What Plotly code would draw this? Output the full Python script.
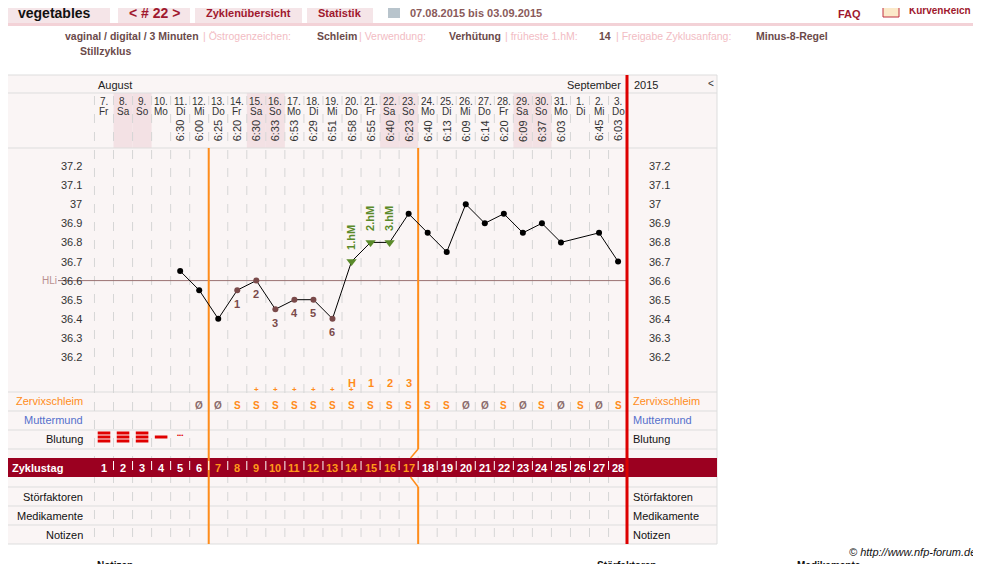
import plotly.graph_objects as go

dates = ["7.","8.","9.","10.","11.","12.","13.","14.","15.","16.","17.","18.","19.","20.","21.","22.","23.","24.","25.","26.","27.","28.","29.","30.","31.","1.","2.","3."]
weekdays = ["Fr","Sa","So","Mo","Di","Mi","Do"]*4
times = ["","","","","6:30","6:00","6:25","6:20","6:30","6:33","6:53","6:29","6:51","6:58","6:55","6:40","6:23","6:40","6:13","6:09","6:14","6:20","6:09","6:37","6:03","","6:45","6:03"]
temps = [None,None,None,None,36.65,36.55,36.40,36.55,36.60,36.45,36.50,36.50,36.40,36.70,36.80,36.80,36.95,36.85,36.75,37.00,36.90,36.95,36.85,36.90,36.80,None,36.85,36.70]
low_days = [8,9,10,11,12,13]
hm_days = [14,15,16]
hm_labels = ["1.hM","2.hM","3.hM"]
peak_labels = {14:"H",15:"1",16:"2",17:"3"}
zervix = ["","","","","","Ø","Ø","S","S+","S+","S+","S+","S+","S+","S","S","S","S","S","Ø","Ø","S","Ø","S","Ø","S","Ø","S"]
blutung = [3,3,3,1,0.5]+[0]*23
weekend = [2,3,9,10,16,17,23,24]
hl = 36.6
yticks = [36.2,36.3,36.4,36.5,36.6,36.7,36.8,36.9,37.0,37.1,37.2]

W, H = 981, 564
OFF = 8  # page body margin
X0, DX = 104.0, 19.04
def px(p): return (p - X0) / DX
def py(p): return 37.2 - (p - 166) / 191.0
def dx(d): return d - 1

FONT = "Liberation Sans"
fig = go.Figure()
shapes, ann = [], []
def rect(x0, y0, x1, y1, fill, line=None, lw=0):
    shapes.append(dict(type="rect", x0=px(x0), x1=px(x1), y0=py(y0), y1=py(y1), fillcolor=fill,
                       line=dict(color=line or fill, width=lw), layer="below"))
def line(x0, y0, x1, y1, color, w=1, dash="solid", layer="below"):
    shapes.append(dict(type="line", x0=x0, x1=x1, y0=y0, y1=y1, line=dict(color=color, width=w, dash=dash), layer=layer))
def text(x, y, t, size=11, color="#333", anchor="center", bold=False, angle=0, italic=False, family=FONT, va="middle"):
    if bold: t = "<b>%s</b>" % t
    if italic: t = "<i>%s</i>" % t
    ann.append(dict(x=x, y=y, text=t, showarrow=False, xanchor=anchor, yanchor=va, textangle=angle,
                    font=dict(size=size, color=color, family=family)))

# header
rect(0, 0, 110, 24, "#f5e5e8"); rect(118, 0, 190, 24, "#f5e5e8"); rect(195, 0, 302, 24, "#f5e5e8"); rect(307, 0, 373, 24, "#f5e5e8")
rect(0, 23, 981, 26, "#f3d2d7")
text(px(16), py(13), "vegetables", 14, "#111", "left", True)
text(px(154), py(13), "&lt; # 22 &gt;", 14, "#a0182e", "center", True)
text(px(248), py(13), "Zyklenübersicht", 11, "#a0182e", "center", True)
text(px(340), py(13), "Statistik", 11, "#a0182e", "center", True)
rect(388, 6, 400, 18, "#b8c4cc")
text(px(408), py(13), "07.08.2015 bis 03.09.2015", 11, "#8a5a5a", "left", True)
text(px(836), py(14), "FAQ", 11, "#a0182e", "left", True)
rect(883, 4, 899, 17, "#fbe9c9", "#c03040", 1)
text(px(907), py(10), "KurvenReich", 10, "#a0182e", "left", True)
meta = [(6,"Messung:",False),(63,"vaginal / digital / 3 Minuten",True),(201,"| Östrogenzeichen:",False),(315,"Schleim",True),(357,"| Verwendung:",False),(447,"Verhütung",True),(503,"| früheste 1.hM:",False),(597,"14",True),(614,"| Freigabe Zyklusanfang:",False),(754,"Minus-8-Regel",True)]
for x, t, v in meta:
    text(px(x), py(36), t, 10.5, "#6b4a4a" if v else "#f2bcc3", "left", v)
text(px(6), py(51), "Kommentar:", 10.5, "#f2bcc3", "left")
text(px(78), py(51), "Stillzyklus", 10.5, "#6b4a4a", "left", True)

# panel
rect(0, 75, 717, 544, "#faf5f5", "#dddddd", 1)
for d in weekend:
    rect(X0 + DX*(dx(d)-0.5), 93, X0 + DX*(dx(d)+0.5), 148, "#f3e1e4")
for y in [93, 148, 392, 411, 430, 449, 487, 506, 525]:
    line(px(0), py(y), px(717), py(y), "#dddddd")
for i in range(29):
    xv = i - 0.5
    line(xv, py(96), xv, py(544), "#d6d6d6", 1, "dash")
rect(0, 458, 717, 477, "#9b0020")
for i in range(1, 28):
    line(i-0.5, py(461), i-0.5, py(475), "#ffffff", 1, "dash", "above")
text(px(6), py(85), "&gt;", 10, "#333", "left")
text(px(96), py(85), "August", 11, "#222", "left")
text(px(623), py(85), "September", 11, "#222", "right")
text(px(632), py(85), "2015", 11, "#222", "left")
text(px(706), py(83), "&lt;", 10, "#333", "left")
for i in range(28):
    text(i, py(101), dates[i], 10, "#333")
    text(i, py(111), weekdays[i], 10, "#333")
    if times[i]:
        text(i, py(131), times[i], 11, "#333", angle=-90)

for t in yticks:
    lab = ("%g" % t) if t != 37.0 else "37"
    text(px(84), t, lab, 11, "#333", "right")
    text(px(647), t, lab, 11, "#333", "left")
line(px(58), hl, px(627), hl, "#9a7272", 1, layer="below")
text(px(40), hl, "HLi", 10, "#b89090", "left")

line(5.5, py(148), 5.5, py(544), "#ff8c1a", 2)
line(16.5, py(148), 16.5, py(449), "#ff8c1a", 2)
line(16.5, py(449), 16.1, py(458), "#ff8c1a", 1.5)
line(16.1, py(477), 16.5, py(487), "#ff8c1a", 1.5)
line(16.5, py(487), 16.5, py(544), "#ff8c1a", 2)
line(px(627), py(75), px(627), py(544), "#dd0000", 3)

xs = [i for i in range(28) if temps[i] is not None]
ys = [temps[i] for i in xs]
fig.add_trace(go.Scatter(x=xs, y=ys, mode="lines", line=dict(color="#000", width=1), hoverinfo="skip"))
norm = [i for i in xs if (i+1) not in low_days and (i+1) not in hm_days]
fig.add_trace(go.Scatter(x=norm, y=[temps[i] for i in norm], mode="markers", marker=dict(color="#000", size=6), hoverinfo="skip"))
fig.add_trace(go.Scatter(x=[dx(d) for d in low_days], y=[temps[dx(d)] for d in low_days], mode="markers",
                         marker=dict(color="#7a4a4a", size=6), hoverinfo="skip"))
fig.add_trace(go.Scatter(x=[dx(d) for d in hm_days], y=[temps[dx(d)] for d in hm_days], mode="markers",
                         marker=dict(color="#5a8a2a", size=9, symbol="triangle-down"), hoverinfo="skip"))
for k, d in enumerate(low_days):
    text(dx(d), temps[dx(d)] - 0.07, str(k+1), 11, "#7a4a4a", bold=True)
for k, d in enumerate(hm_days):
    text(dx(d), temps[dx(d)] + 0.05, hm_labels[k], 11, "#5a8a2a", bold=True, angle=-90, va="bottom")
for d, t in peak_labels.items():
    text(dx(d), py(383), t, 11, "#ff8c1a", bold=True)

for y, t, c in [(401, "Zervixschleim", "#ff8c1a"), (420, "Muttermund", "#5570cc"), (439, "Blutung", "#111"),
                (497, "Störfaktoren", "#111"), (516, "Medikamente", "#111"), (535, "Notizen", "#111")]:
    text(px(85), py(y), t, 11, c, "right")
    text(px(631), py(y), t, 11, c, "left")
text(px(10), py(468), "Zyklustag", 11, "#fff", "left", True)
for i in range(28):
    text(i, py(468), str(i+1), 11, "#ff9a1a" if 6 <= i <= 16 else "#fff", bold=True)
    z = zervix[i]
    if z:
        col = "#ff8c1a" if z.startswith("S") else "#8a6a6a"
        text(i, py(405), z[0], 10, col, bold=True)
        if z.endswith("+"):
            text(i, py(396), "+", 8, col, bold=True, va="bottom")
bx, by = [], []
for i, b in enumerate(blutung):
    if b >= 1:
        offs = [-4, 0, 4] if b == 3 else [0]
        for o in offs:
            bx.append(i); by.append(py(437 + o))
fig.add_trace(go.Scatter(x=bx, y=by, mode="markers", marker=dict(symbol="line-ew", size=9, line=dict(color="#e00000", width=3)), hoverinfo="skip"))
for i, b in enumerate(blutung):
    if 0 < b < 1:
        text(i, py(435), "•••", 6, "#e00000")

text(px(978), py(552), "© http://www.nfp-forum.de", 11, "#111", "right", italic=True)
for x, t in [(95, "Notizen"), (595, "Störfaktoren"), (795, "Medikamente")]:
    text(px(x), py(558), t, 10, "#111", "left", True, va="top")

fig.update_layout(width=W - OFF, height=H - OFF, margin=dict(l=0, r=0, t=0, b=0), showlegend=False,
                  paper_bgcolor="#fff", plot_bgcolor="#fff", shapes=shapes, annotations=ann,
                  xaxis=dict(range=[px(OFF), px(W)], visible=False, fixedrange=True),
                  yaxis=dict(range=[py(H), py(OFF)], visible=False, fixedrange=True))
fig.write_html("out.html", config={"displayModeBar": False})
